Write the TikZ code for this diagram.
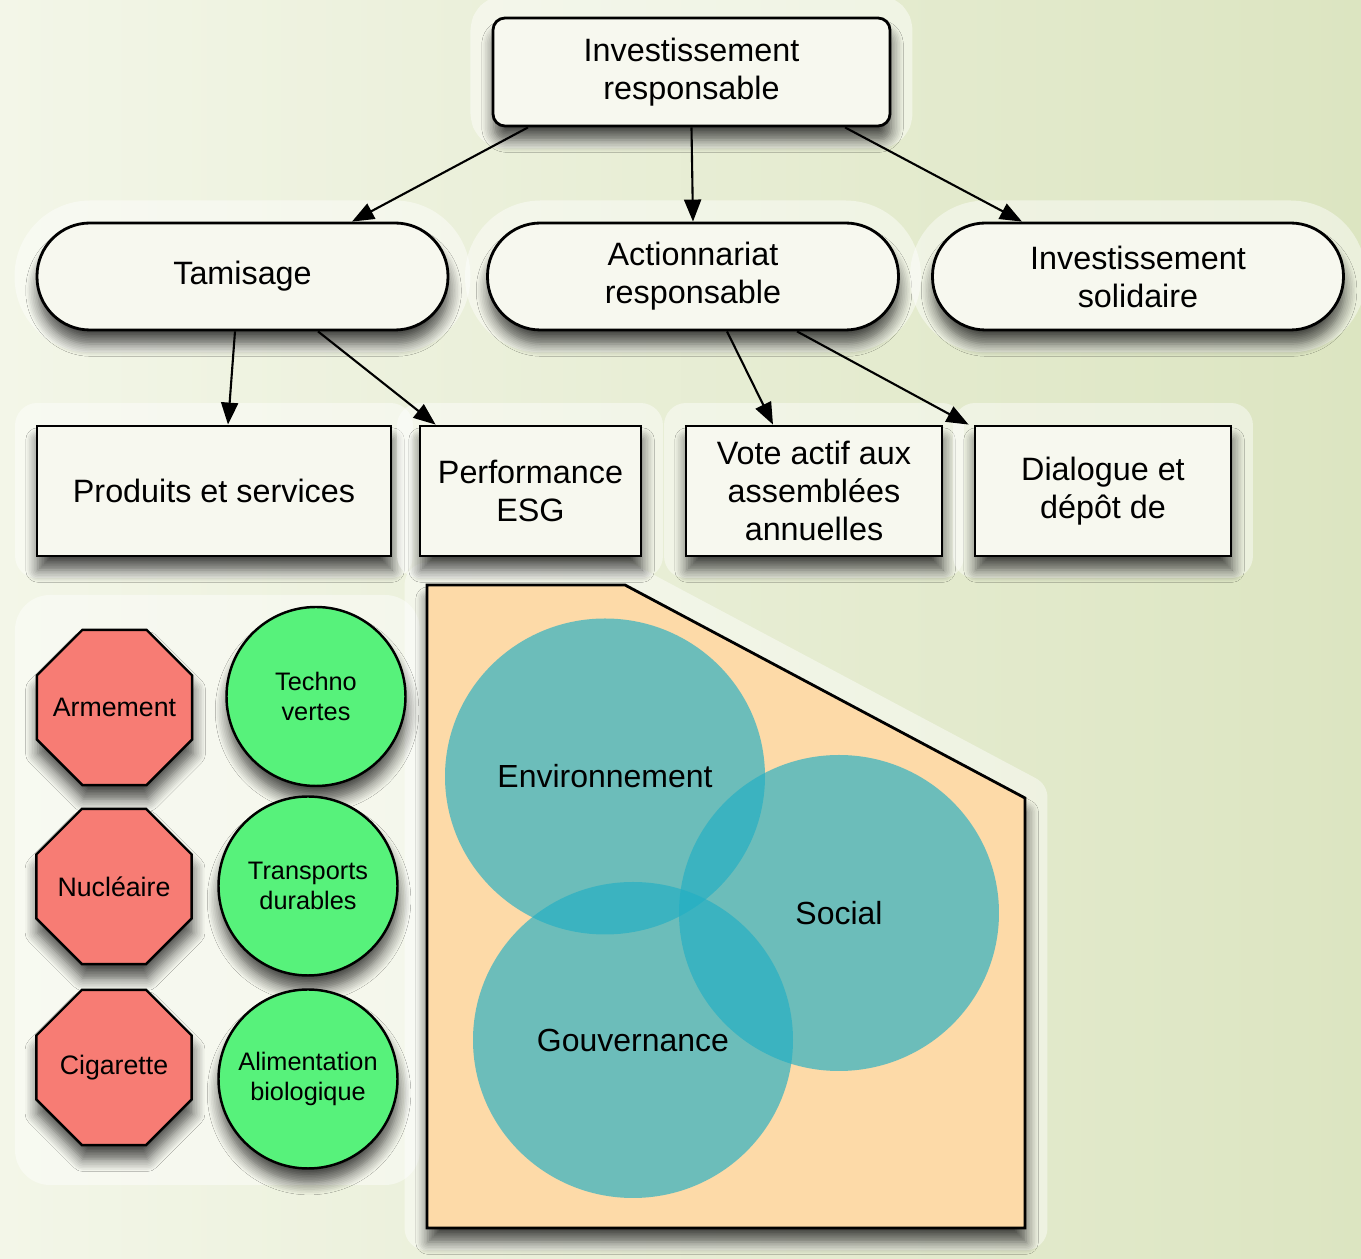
\documentclass[tikz,border=0pt]{standalone}
\usepackage{fontspec}
\setmainfont{Liberation Sans}
\usetikzlibrary{shapes.geometric, arrows.meta, shadows.blur}

\definecolor{bgleft}{HTML}{F3F6E8}
\definecolor{bgright}{HTML}{DCE5C1}
\definecolor{boxfill}{HTML}{F7F8EF}
\definecolor{octred}{HTML}{F77C74}
\definecolor{leafgreen}{HTML}{57F27B}
\definecolor{sandfill}{HTML}{FDDAA8}
\definecolor{esgteal}{HTML}{22AFC4}

\begin{document}
\begin{tikzpicture}[
  glow/.style={preaction={draw=white, line width=0.45cm, line join=round, opacity=0.45}},
  boxshadow/.style={blur shadow={shadow xshift=0.3pt, shadow yshift=-4pt, shadow blur radius=3.5pt, shadow blur steps=8, shadow opacity=70}},
  topbox/.style={glow, boxshadow, draw, line width=0.8pt, fill=boxfill, rounded corners=0.12cm, minimum width=3.97cm, minimum height=1.08cm, align=center, font=\fontsize{9.2}{10.8}\selectfont},
  stadium/.style={topbox, rounded corners=0.53cm, minimum width=4.11cm, minimum height=1.07cm},
  leafbox/.style={glow, boxshadow, draw, line width=0.8pt, fill=boxfill, minimum height=1.30cm, inner sep=1pt, align=center, font=\fontsize{9.2}{10.8}\selectfont},
  octo/.style={boxshadow, regular polygon, regular polygon sides=8, minimum size=1.68cm, draw, line width=0.7pt, fill=octred, inner sep=0pt, font=\fontsize{7.6}{9}\selectfont},
  disc/.style={boxshadow, circle, minimum size=1.79cm, draw, line width=0.7pt, fill=leafgreen, inner sep=0pt, align=center, font=\fontsize{7.2}{8.7}\selectfont},
  pillar/.style={ellipse, fill=esgteal, fill opacity=0.66, text opacity=1, inner sep=0pt, minimum width=3.2cm, minimum height=3.16cm, font=\fontsize{9.1}{11}\selectfont},
  arr/.style={-{Triangle[length=0.22cm, width=0.17cm, fill=black]}, line width=0.6pt}
]

\shade[left color=bgleft, right color=bgright] (0,0) rectangle (13.61,-12.59);
\useasboundingbox (0,0) rectangle (13.61,-12.59);

\fill [white, opacity=0.45, rounded corners=0.35cm] (0.15,-5.95) rectangle (4.2,-11.85);

\draw [glow, boxshadow, line width=0.8pt, fill=sandfill] (4.27,-5.85) -- (6.25,-5.85) -- (10.25,-7.98) -- (10.25,-12.28) -- (4.27,-12.28) -- cycle;

\node (env) at (6.05, -7.765) [pillar] {\makebox[0pt]{Environnement}};
\node (soc) at (8.39, -9.13) [pillar] {\makebox[0pt]{Social}};
\node (gov) at (6.33, -10.40) [pillar] {\makebox[0pt]{Gouvernance}};

\node (top) at (6.915, -0.72) [topbox] {Investissement\\responsable};

\node (tam) at (2.425, -2.765) [stadium] {Tamisage};
\node (act) at (6.93, -2.765) [stadium] {Actionnariat\\responsable};
\node (sol) at (11.38, -2.765) [stadium] {Investissement\\solidaire};

\node (prod) at (2.14, -4.91) [leafbox, minimum width=3.54cm] {Produits et services};
\node (perf) at (5.305, -4.91) [leafbox, minimum width=2.21cm] {Performance\\ESG};
\node (vote) at (8.14, -4.91) [leafbox, minimum width=2.56cm] {Vote actif aux\\assemblées\\annuelles};
\node (dial) at (11.03, -4.91) [leafbox, minimum width=2.56cm] {Dialogue et\\dépôt de};

\node (arm) at (1.145, -7.075) [octo] {\makebox[0pt]{Armement}};
\node (nuc) at (1.14, -8.865) [octo] {\makebox[0pt]{Nucléaire}};
\node (cig) at (1.14, -10.675) [octo] {\makebox[0pt]{Cigarette}};

\node (techno) at (3.16, -6.965) [disc] {Techno\\vertes};
\node (trans) at (3.08, -8.86) [disc] {Transports\\durables};
\node (alim) at (3.08, -10.79) [disc] {Alimentation\\biologique};

\draw [arr] ([xshift=-1.635cm]top.south) -- ([xshift=1.095cm]tam.north);
\draw [arr] (top.south) -- (act.north);
\draw [arr] ([xshift=1.535cm]top.south) -- ([xshift=-1.16cm]sol.north);

\draw [arr] ([xshift=-0.075cm]tam.south) -- ([xshift=0.14cm]prod.north);
\draw [arr] ([xshift=0.755cm]tam.south) -- ([xshift=0.17cm]perf.north west);

\draw [arr] ([xshift=0.34cm]act.south) -- ([xshift=-0.41cm]vote.north);
\draw [arr] ([xshift=1.04cm]act.south) -- ([xshift=-0.05cm]dial.north west);

\end{tikzpicture}
\end{document}
